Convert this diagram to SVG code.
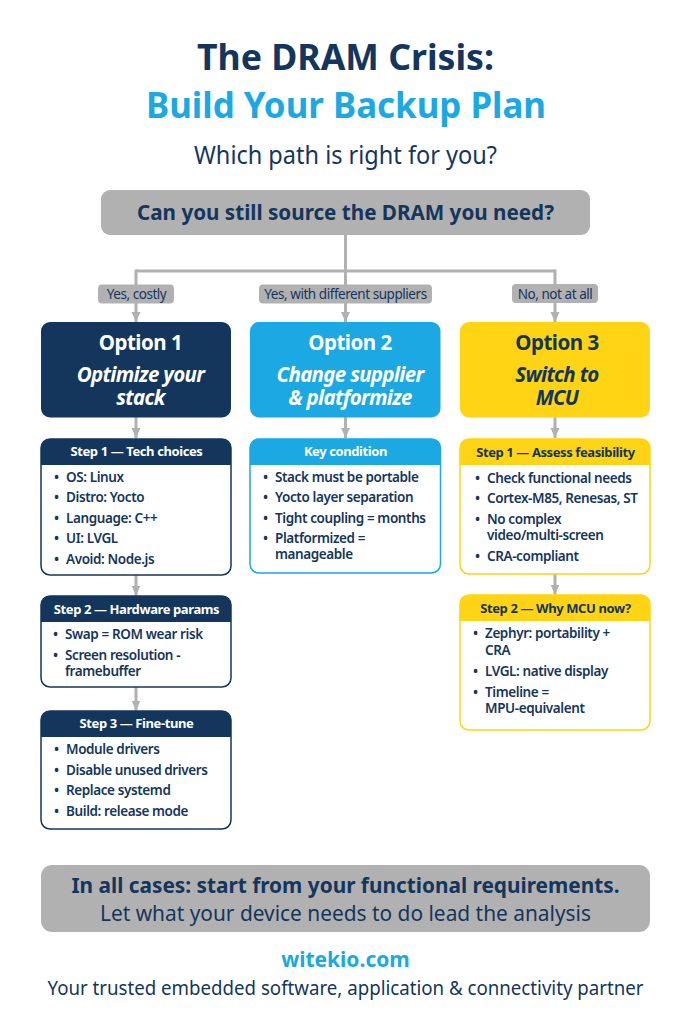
<svg xmlns="http://www.w3.org/2000/svg" width="691" height="1024" viewBox="0 0 691 1024">
<style>
text{font-family:"Noto Sans","Open Sans",sans-serif;fill:#14365d}
.c{text-anchor:middle}
.b{font-weight:700}
.h{font-size:13px;font-weight:700;letter-spacing:-.4px;text-anchor:middle}
.i{font-size:13.500px;font-weight:600;letter-spacing:-.4px}
.w{fill:#fff}
.lab{font-size:13.500px;text-anchor:middle;letter-spacing:-.45px}
.opt{font-size:20.500px;font-weight:700;text-anchor:middle;letter-spacing:-.5px}
.sub{font-size:20.500px;font-weight:700;font-style:italic;text-anchor:middle;letter-spacing:-.7px}
.ln{fill:none;stroke:#b1b1b1;stroke-width:3}
.lb{fill:#b1b1b1}
</style>
<defs><marker id="a" markerUnits="userSpaceOnUse" markerWidth="10" markerHeight="10" refX="10" refY="5" orient="auto"><path d="M0 0.500L10 5L0 9.500Z" fill="#b1b1b1"/></marker></defs>
<rect width="691" height="1024" fill="#fff"/>
<g id="title">
<text class="c b" x="345.500" y="70" font-size="36" textLength="297" lengthAdjust="spacingAndGlyphs">The DRAM Crisis:</text>
<text class="c b" x="346" y="118" font-size="36" textLength="400" lengthAdjust="spacingAndGlyphs" style="fill:#1ba8e3">Build Your Backup Plan</text>
<text class="c" x="345.500" y="164" font-size="25" textLength="303" lengthAdjust="spacingAndGlyphs">Which path is right for you?</text>
</g>
<g id="connectors">
<path class="ln" d="M345.500 235V322" marker-end="url(#a)"/>
<path class="ln" d="M136 271H555"/>
<path class="ln" d="M136 269.500V322" marker-end="url(#a)"/>
<path class="ln" d="M555 269.500V322" marker-end="url(#a)"/>
<path class="ln" d="M136 417V438" marker-end="url(#a)"/>
<path class="ln" d="M345.500 417V438" marker-end="url(#a)"/>
<path class="ln" d="M555 417V438" marker-end="url(#a)"/>
<path class="ln" d="M136 575V595.500" marker-end="url(#a)"/>
<path class="ln" d="M136 687V710.500" marker-end="url(#a)"/>
<path class="ln" d="M555 574V594.500" marker-end="url(#a)"/>
</g>
<g id="q"><rect x="101" y="190" width="489" height="45" rx="9" fill="#b1b1b1"/><text class="c b" x="345.500" y="220" font-size="21.500" textLength="417" lengthAdjust="spacingAndGlyphs">Can you still source the DRAM you need?</text></g>
<g id="l1"><rect x="98" y="284.500" width="76" height="19" rx="4" class="lb"/><text class="lab" x="136.500" y="298.500">Yes, costly</text></g>
<g id="l2"><rect x="259" y="284.500" width="173" height="19" rx="4" class="lb"/><text class="lab" x="345.500" y="298.500">Yes, with different suppliers</text></g>
<g id="l3"><rect x="512" y="284" width="86" height="19" rx="4" class="lb"/><text class="lab" x="555" y="298.500">No, not at all</text></g>
<g id="opt1"><rect x="41" y="322" width="190" height="95.500" rx="9" fill="#14365d"/><text class="opt w" x="140.500" y="350">Option 1</text><text class="sub w" x="140.500" y="381.500">Optimize your</text><text class="sub w" x="140.500" y="405">stack</text></g>
<g id="opt2"><rect x="250" y="322" width="190.500" height="95.500" rx="9" fill="#1ba8e3"/><text class="opt w" x="350" y="350">Option 2</text><text class="sub w" x="350" y="381.500">Change supplier</text><text class="sub w" x="350" y="405">&amp; platformize</text></g>
<g id="opt3"><rect x="460" y="322" width="190" height="95.500" rx="9" fill="#ffd414"/><text class="opt" x="557" y="350">Option 3</text><text class="sub" x="557" y="381.500">Switch to</text><text class="sub" x="557" y="405">MCU</text></g>

<g id="s11"><rect x="41" y="439" width="190" height="136" rx="9" fill="#fff" stroke="#14365d" stroke-width="1.500"/><path d="M41 465V448a9 9 0 0 1 9-9H222a9 9 0 0 1 9 9V465Z" fill="#14365d"/><text class="h w" x="136.500" y="456">Step 1 — Tech choices</text>
<text class="i" y="482"><tspan x="54">•</tspan><tspan x="66">OS: Linux</tspan></text><text class="i" y="502"><tspan x="54">•</tspan><tspan x="66">Distro: Yocto</tspan></text><text class="i" y="523"><tspan x="54">•</tspan><tspan x="66">Language: C++</tspan></text><text class="i" y="543"><tspan x="54">•</tspan><tspan x="66">UI: LVGL</tspan></text><text class="i" y="564"><tspan x="54">•</tspan><tspan x="66">Avoid: Node.js</tspan></text></g>
<g id="s12"><rect x="41" y="596" width="190" height="91" rx="9" fill="#fff" stroke="#14365d" stroke-width="1.500"/><path d="M41 622V605a9 9 0 0 1 9-9H222a9 9 0 0 1 9 9V622Z" fill="#14365d"/><text class="h w" x="136.500" y="614">Step 2 — Hardware params</text>
<text class="i" y="639"><tspan x="53">•</tspan><tspan x="65">Swap = ROM wear risk</tspan></text><text class="i" y="660"><tspan x="53">•</tspan><tspan x="65">Screen resolution -</tspan></text><text class="i" x="65" y="676">framebuffer</text></g>
<g id="s13"><rect x="41" y="711" width="190" height="118" rx="9" fill="#fff" stroke="#14365d" stroke-width="1.500"/><path d="M41 737V720a9 9 0 0 1 9-9H222a9 9 0 0 1 9 9V737Z" fill="#14365d"/><text class="h w" x="136.500" y="728">Step 3 — Fine-tune</text>
<text class="i" y="754"><tspan x="54">•</tspan><tspan x="66">Module drivers</tspan></text><text class="i" y="775"><tspan x="54">•</tspan><tspan x="66">Disable unused drivers</tspan></text><text class="i" y="795"><tspan x="54">•</tspan><tspan x="66">Replace systemd</tspan></text><text class="i" y="816"><tspan x="54">•</tspan><tspan x="66">Build: release mode</tspan></text></g>

<g id="s21"><rect x="250" y="439" width="190.500" height="134" rx="9" fill="#fff" stroke="#1ba8e3" stroke-width="1.500"/><path d="M250 465V448a9 9 0 0 1 9-9H431.500a9 9 0 0 1 9 9V465Z" fill="#1ba8e3"/><text class="h w" x="345.500" y="456">Key condition</text>
<text class="i" y="482"><tspan x="263">•</tspan><tspan x="275">Stack must be portable</tspan></text><text class="i" y="502"><tspan x="263">•</tspan><tspan x="275">Yocto layer separation</tspan></text><text class="i" y="523"><tspan x="263">•</tspan><tspan x="275">Tight coupling = months</tspan></text><text class="i" y="543"><tspan x="263">•</tspan><tspan x="275">Platformized =</tspan></text><text class="i" x="275" y="559">manageable</text></g>

<g id="s31"><rect x="460" y="439" width="190" height="135" rx="9" fill="#fff" stroke="#ffd414" stroke-width="1.500"/><path d="M460 465V448a9 9 0 0 1 9-9H641a9 9 0 0 1 9 9V465Z" fill="#ffd414"/><text class="h" x="555.500" y="457">Step 1 — Assess feasibility</text>
<text class="i" y="483"><tspan x="475">•</tspan><tspan x="487">Check functional needs</tspan></text><text class="i" y="503"><tspan x="475">•</tspan><tspan x="487">Cortex-M85, Renesas, ST</tspan></text><text class="i" y="524"><tspan x="475">•</tspan><tspan x="487">No complex</tspan></text><text class="i" x="487" y="540">video/multi-screen</text><text class="i" y="561"><tspan x="475">•</tspan><tspan x="487">CRA-compliant</tspan></text></g>
<g id="s32"><rect x="460" y="595" width="190" height="135" rx="9" fill="#fff" stroke="#ffd414" stroke-width="1.500"/><path d="M460 621V604a9 9 0 0 1 9-9H641a9 9 0 0 1 9 9V621Z" fill="#ffd414"/><text class="h" x="555.500" y="613">Step 2 — Why MCU now?</text>
<text class="i" y="638"><tspan x="473">•</tspan><tspan x="485">Zephyr: portability +</tspan></text><text class="i" x="485" y="655">CRA</text><text class="i" y="676"><tspan x="473">•</tspan><tspan x="485">LVGL: native display</tspan></text><text class="i" y="697"><tspan x="473">•</tspan><tspan x="485">Timeline =</tspan></text><text class="i" x="485" y="713">MPU-equivalent</text></g>

<g id="note"><rect x="41" y="865" width="609" height="67" rx="11" fill="#b1b1b1"/><text class="c b" x="345.500" y="893" font-size="22" textLength="548" lengthAdjust="spacingAndGlyphs">In all cases: start from your functional requirements.</text><text class="c" x="345.500" y="921" font-size="21" textLength="491" lengthAdjust="spacingAndGlyphs">Let what your device needs to do lead the analysis</text></g>
<g id="footer"><text class="c b" x="345.500" y="967" font-size="21" style="fill:#1ba8e3">witekio.com</text><text class="c" x="345.500" y="995" font-size="19.500" textLength="596" lengthAdjust="spacingAndGlyphs">Your trusted embedded software, application &amp; connectivity partner</text></g>
</svg>
